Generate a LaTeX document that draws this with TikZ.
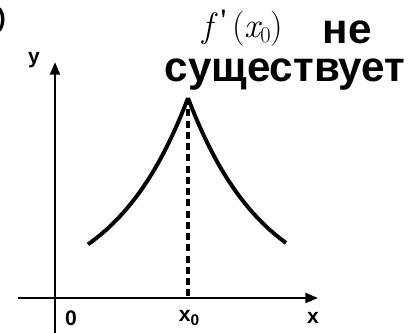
\documentclass[tikz,border=0pt]{standalone}
\usepackage{fontspec}
\setmainfont{Liberation Sans}
\newfontfamily\lmserif{Latin Modern Roman}
\usetikzlibrary{arrows.meta}
\begin{document}
\begin{tikzpicture}[x=0.025cm,y=-0.025cm,
  axis/.style={line width=1.8pt,-{Triangle[length=9pt,width=7pt]}},
  curve/.style={line width=2.8pt},
  guide/.style={line width=2.2pt,dash pattern=on 5pt off 3pt},
  lbl/.style={inner sep=0pt,font=\fontsize{15pt}{16pt}\selectfont\bfseries},
  big/.style={inner sep=0pt,font=\fontsize{30pt}{32pt}\selectfont\bfseries,anchor=base}]
\useasboundingbox (0,0) rectangle (410,332);
\coordinate (ystart) at (55,340);
\coordinate (yend) at (55,62);
\coordinate (xstart) at (18,298);
\coordinate (xend) at (318,298);
\coordinate (peak) at (188,98);
\coordinate (foot) at (188,298);
\draw[axis] (ystart) -- (yend);
\draw[axis] (xstart) -- (xend);
\draw[guide] (peak) -- (foot);
\draw[curve] plot[domain=88:188,samples=60] (\x,{298-200*exp(-(188-\x)/76)});
\draw[curve] plot[domain=188:286,samples=60] (\x,{298-200*exp(-(\x-188)/76)});
\node[lbl] (ylab) at (34,60) {y};
\node[lbl] (olab) at (71,318) {0};
\node[lbl] (x0lab) at (189,318) {x\raisebox{-0.35ex}{\fontsize{11pt}{12pt}\selectfont 0}};
\node[lbl] (xlab) at (313,318) {x};
\node[inner sep=0pt,font=\fontsize{25pt}{27pt}\selectfont\lmserif,anchor=base,text depth=0pt] (flab) at (243,37) {\itshape f\hspace{4pt}\upshape\raisebox{0.5ex}{\fontsize{20pt}{20pt}\selectfont\bfseries\textquotesingle}\hspace{3pt}(\itshape x\upshape\raisebox{-0.35ex}{\fontsize{16pt}{17pt}\selectfont 0})};
\node[big,text depth=0pt] (ne) at (347,43) {не};
\node[big] (sush) at (285,81) {существует};
\node[inner sep=0pt,font=\fontsize{18pt}{20pt}\selectfont\bfseries,anchor=east] (frag) at (6,20) {б)};
\end{tikzpicture}
\end{document}
